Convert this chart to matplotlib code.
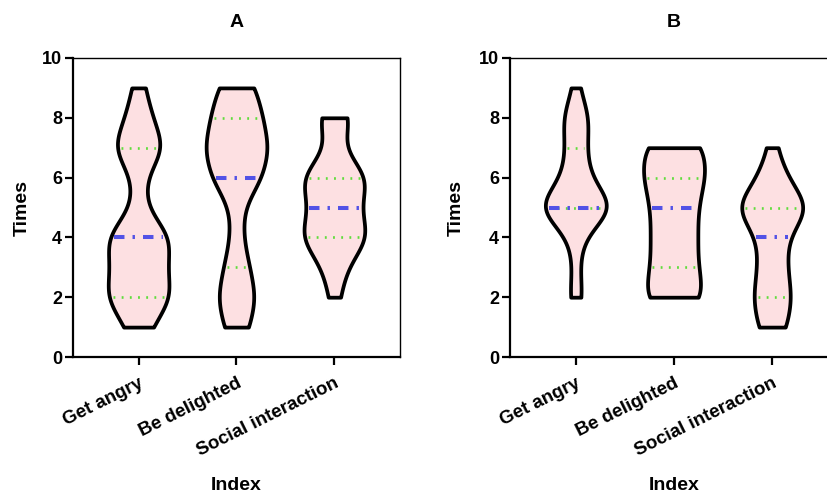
import numpy as np
import matplotlib
matplotlib.use('Agg')
import matplotlib.pyplot as plt

plt.rcParams['font.family'] = ['Liberation Sans', 'DejaVu Sans']

categories = ['Get angry', 'Be delighted', 'Social interaction']
levels = [1, 2, 3, 4, 5, 6, 7, 8, 9]

# how many answers gave each value (1..9), one list per violin
counts_a = [
    [2, 5, 4, 5, 1, 1, 4, 2, 1],   # Get angry
    [2, 3, 2, 1, 1, 4, 5, 4, 3],   # Be delighted
    [0, 1, 2, 6, 4, 6, 1, 3, 0],   # Social interaction
]
counts_b = [
    [0, 2, 1, 2, 12, 4, 3, 4, 1],
    [0, 4, 3, 3, 3, 4, 4, 0, 0],
    [3, 4, 3, 3, 8, 3, 1, 0, 0],
]

fill_col = '#fde0e2'
median_col = '#5252e6'
quart_col = '#5fdc3c'
bandwidth = 0.64   # same smoothing (in "times") for every violin


def expand(counts):
    return [np.repeat(levels, c).astype(float) for c in counts]


def fixed_bw(kde):
    return bandwidth / np.std(kde.dataset, ddof=1)


def half_width(body, pos, y):
    v = body.get_paths()[0].vertices
    right = v[v[:, 0] >= pos]
    order = np.argsort(right[:, 1])
    return np.interp(y, right[order, 1], right[order, 0]) - pos


def panel(ax, counts, title):
    data = expand(counts)
    pos = [1, 2, 3]
    parts = ax.violinplot(data, positions=pos, widths=0.62, bw_method=fixed_bw,
                          showextrema=False, points=300)
    for b in parts['bodies']:
        b.set_facecolor(fill_col)
        b.set_edgecolor('black')
        b.set_linewidth(2.7)
        b.set_alpha(1)
        b.set_joinstyle('round')
    for i, d in enumerate(data):
        q1, med, q3 = np.percentile(d, [25, 50, 75])
        body = parts['bodies'][i]
        for q in (q1, q3):
            w = half_width(body, pos[i], q) - 0.035
            ax.plot([pos[i] - w, pos[i] + w], [q, q], color=quart_col, lw=1.9,
                    linestyle=(0, (0.7, 2.4)), zorder=3)
        w = half_width(body, pos[i], med) - 0.035
        ax.plot([pos[i] - w, pos[i] + w], [med, med], color=median_col, lw=2.9,
                linestyle=(0, (2.6, 2.0, 0.6, 2.0)), zorder=4)

    ax.set_xlim(0.33, 3.67)
    ax.set_ylim(0, 10)
    ax.set_yticks(range(0, 11, 2))
    ax.set_xticks(pos)
    ax.set_xticklabels(categories, rotation=26.5, ha='right', rotation_mode='anchor',
                       fontsize=13.5, fontweight='bold')
    for lab in ax.get_yticklabels():
        lab.set_fontweight('bold')
        lab.set_fontsize(13)
    ax.spines['left'].set_linewidth(1.6)
    ax.spines['bottom'].set_linewidth(1.6)
    ax.spines['top'].set_linewidth(1.0)
    ax.spines['right'].set_linewidth(1.0)
    ax.tick_params(axis='both', length=6, width=1.6, pad=2)
    ax.tick_params(axis='x', pad=7)
    ax.set_title(title, fontsize=14, fontweight='bold', pad=22)
    ax.set_ylabel('Times', fontsize=14, fontweight='bold')
    ax.set_xlabel('Index', fontsize=14, fontweight='bold')


fig = plt.figure(figsize=(8.28, 4.97), dpi=100)
ax_a = fig.add_axes([73 / 828, 1 - 357 / 497, 327 / 828, 299 / 497])
ax_b = fig.add_axes([510 / 828, 1 - 357 / 497, 328 / 828, 299 / 497])
panel(ax_a, counts_a, 'A')
panel(ax_b, counts_b, 'B')
ax_a.yaxis.set_label_coords(-0.128, 0.5)
ax_b.yaxis.set_label_coords(-0.137, 0.5)
ax_a.xaxis.set_label_coords(0.5, -0.40)
ax_b.xaxis.set_label_coords(0.5, -0.40)

fig.savefig('out.png', dpi=100)
